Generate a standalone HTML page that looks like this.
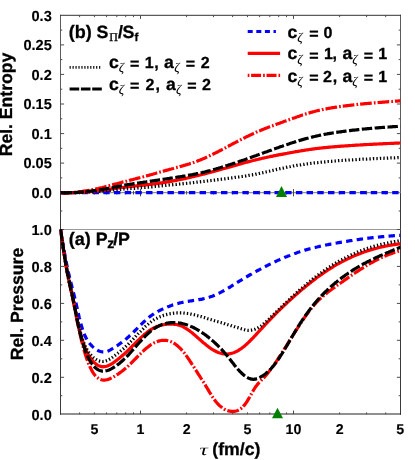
<!DOCTYPE html>
<html><head><meta charset="utf-8"><title>plot</title>
<style>html,body{margin:0;padding:0;background:#fff;}body{width:415px;height:460px;overflow:hidden;font-family:"Liberation Sans",sans-serif;}</style></head>
<body>
<svg width="415" height="460" viewBox="0 0 415 460" style="display:block;will-change:transform">
<rect width="415" height="460" fill="#fff"/>
<defs><clipPath id="ct"><rect x="60.5" y="15.3" width="340.0" height="179.9"/></clipPath><clipPath id="cb"><rect x="59.5" y="194.7" width="341.0" height="221.5"/></clipPath></defs>
<g stroke-width="1" fill="none">
<line x1="60.5" y1="14.8" x2="60.5" y2="192.7" stroke="#5c5c5c"/>
<line x1="60.5" y1="192.7" x2="60.5" y2="414.7" stroke="#3a3a3a"/>
<line x1="400.5" y1="14.8" x2="400.5" y2="192.7" stroke="#5c5c5c"/>
<line x1="400.5" y1="192.7" x2="400.5" y2="414.7" stroke="#3a3a3a"/>
<line x1="60.0" y1="15.3" x2="401.0" y2="15.3" stroke="#333"/>
<line x1="60.0" y1="414.0" x2="401.0" y2="414.0" stroke="#222" stroke-width="1.1"/>
</g>
<line x1="60.5" y1="192.7" x2="400.5" y2="192.7" stroke="#777" stroke-width="1"/>
<line x1="60.5" y1="229.5" x2="400.5" y2="229.5" stroke="#999" stroke-width="1"/>
<g stroke="#4a4a4a" stroke-width="1">
<line x1="79.6" y1="414.2" x2="79.6" y2="412.4"/>
<line x1="79.6" y1="15.3" x2="79.6" y2="17.1"/>
<line x1="79.6" y1="190.9" x2="79.6" y2="194.5"/>
<line x1="94.4" y1="414.2" x2="94.4" y2="412.4"/>
<line x1="94.4" y1="15.3" x2="94.4" y2="17.1"/>
<line x1="94.4" y1="190.9" x2="94.4" y2="194.5"/>
<line x1="106.6" y1="414.2" x2="106.6" y2="412.4"/>
<line x1="106.6" y1="15.3" x2="106.6" y2="17.1"/>
<line x1="106.6" y1="190.9" x2="106.6" y2="194.5"/>
<line x1="116.8" y1="414.2" x2="116.8" y2="412.4"/>
<line x1="116.8" y1="15.3" x2="116.8" y2="17.1"/>
<line x1="116.8" y1="190.9" x2="116.8" y2="194.5"/>
<line x1="125.7" y1="414.2" x2="125.7" y2="412.4"/>
<line x1="125.7" y1="15.3" x2="125.7" y2="17.1"/>
<line x1="125.7" y1="190.9" x2="125.7" y2="194.5"/>
<line x1="133.5" y1="414.2" x2="133.5" y2="412.4"/>
<line x1="133.5" y1="15.3" x2="133.5" y2="17.1"/>
<line x1="133.5" y1="190.9" x2="133.5" y2="194.5"/>
<line x1="186.6" y1="414.2" x2="186.6" y2="412.4"/>
<line x1="186.6" y1="15.3" x2="186.6" y2="17.1"/>
<line x1="186.6" y1="190.9" x2="186.6" y2="194.5"/>
<line x1="213.5" y1="414.2" x2="213.5" y2="412.4"/>
<line x1="213.5" y1="15.3" x2="213.5" y2="17.1"/>
<line x1="213.5" y1="190.9" x2="213.5" y2="194.5"/>
<line x1="232.6" y1="414.2" x2="232.6" y2="412.4"/>
<line x1="232.6" y1="15.3" x2="232.6" y2="17.1"/>
<line x1="232.6" y1="190.9" x2="232.6" y2="194.5"/>
<line x1="247.5" y1="414.2" x2="247.5" y2="412.4"/>
<line x1="247.5" y1="15.3" x2="247.5" y2="17.1"/>
<line x1="247.5" y1="190.9" x2="247.5" y2="194.5"/>
<line x1="259.6" y1="414.2" x2="259.6" y2="412.4"/>
<line x1="259.6" y1="15.3" x2="259.6" y2="17.1"/>
<line x1="259.6" y1="190.9" x2="259.6" y2="194.5"/>
<line x1="269.8" y1="414.2" x2="269.8" y2="412.4"/>
<line x1="269.8" y1="15.3" x2="269.8" y2="17.1"/>
<line x1="269.8" y1="190.9" x2="269.8" y2="194.5"/>
<line x1="278.7" y1="414.2" x2="278.7" y2="412.4"/>
<line x1="278.7" y1="15.3" x2="278.7" y2="17.1"/>
<line x1="278.7" y1="190.9" x2="278.7" y2="194.5"/>
<line x1="286.5" y1="414.2" x2="286.5" y2="412.4"/>
<line x1="286.5" y1="15.3" x2="286.5" y2="17.1"/>
<line x1="286.5" y1="190.9" x2="286.5" y2="194.5"/>
<line x1="339.6" y1="414.2" x2="339.6" y2="412.4"/>
<line x1="339.6" y1="15.3" x2="339.6" y2="17.1"/>
<line x1="339.6" y1="190.9" x2="339.6" y2="194.5"/>
<line x1="366.6" y1="414.2" x2="366.6" y2="412.4"/>
<line x1="366.6" y1="15.3" x2="366.6" y2="17.1"/>
<line x1="366.6" y1="190.9" x2="366.6" y2="194.5"/>
<line x1="385.7" y1="414.2" x2="385.7" y2="412.4"/>
<line x1="385.7" y1="15.3" x2="385.7" y2="17.1"/>
<line x1="385.7" y1="190.9" x2="385.7" y2="194.5"/>
<line x1="140.5" y1="414.2" x2="140.5" y2="410.6"/>
<line x1="140.5" y1="15.3" x2="140.5" y2="18.9"/>
<line x1="140.5" y1="189.1" x2="140.5" y2="196.3"/>
<line x1="293.5" y1="414.2" x2="293.5" y2="410.6"/>
<line x1="293.5" y1="15.3" x2="293.5" y2="18.9"/>
<line x1="293.5" y1="189.1" x2="293.5" y2="196.3"/>
<line x1="60.5" y1="177.9" x2="62.3" y2="177.9"/>
<line x1="400.5" y1="177.9" x2="398.7" y2="177.9"/>
<line x1="60.5" y1="163.1" x2="64.1" y2="163.1"/>
<line x1="400.5" y1="163.1" x2="396.9" y2="163.1"/>
<line x1="60.5" y1="148.3" x2="62.3" y2="148.3"/>
<line x1="400.5" y1="148.3" x2="398.7" y2="148.3"/>
<line x1="60.5" y1="133.6" x2="64.1" y2="133.6"/>
<line x1="400.5" y1="133.6" x2="396.9" y2="133.6"/>
<line x1="60.5" y1="118.8" x2="62.3" y2="118.8"/>
<line x1="400.5" y1="118.8" x2="398.7" y2="118.8"/>
<line x1="60.5" y1="104.0" x2="64.1" y2="104.0"/>
<line x1="400.5" y1="104.0" x2="396.9" y2="104.0"/>
<line x1="60.5" y1="89.2" x2="62.3" y2="89.2"/>
<line x1="400.5" y1="89.2" x2="398.7" y2="89.2"/>
<line x1="60.5" y1="74.4" x2="64.1" y2="74.4"/>
<line x1="400.5" y1="74.4" x2="396.9" y2="74.4"/>
<line x1="60.5" y1="59.6" x2="62.3" y2="59.6"/>
<line x1="400.5" y1="59.6" x2="398.7" y2="59.6"/>
<line x1="60.5" y1="44.9" x2="64.1" y2="44.9"/>
<line x1="400.5" y1="44.9" x2="396.9" y2="44.9"/>
<line x1="60.5" y1="30.1" x2="62.3" y2="30.1"/>
<line x1="400.5" y1="30.1" x2="398.7" y2="30.1"/>
<line x1="60.5" y1="395.7" x2="62.3" y2="395.7"/>
<line x1="400.5" y1="395.7" x2="398.7" y2="395.7"/>
<line x1="60.5" y1="377.3" x2="64.1" y2="377.3"/>
<line x1="400.5" y1="377.3" x2="396.9" y2="377.3"/>
<line x1="60.5" y1="358.8" x2="62.3" y2="358.8"/>
<line x1="400.5" y1="358.8" x2="398.7" y2="358.8"/>
<line x1="60.5" y1="340.3" x2="64.1" y2="340.3"/>
<line x1="400.5" y1="340.3" x2="396.9" y2="340.3"/>
<line x1="60.5" y1="321.9" x2="62.3" y2="321.9"/>
<line x1="400.5" y1="321.9" x2="398.7" y2="321.9"/>
<line x1="60.5" y1="303.4" x2="64.1" y2="303.4"/>
<line x1="400.5" y1="303.4" x2="396.9" y2="303.4"/>
<line x1="60.5" y1="284.9" x2="62.3" y2="284.9"/>
<line x1="400.5" y1="284.9" x2="398.7" y2="284.9"/>
<line x1="60.5" y1="266.4" x2="64.1" y2="266.4"/>
<line x1="400.5" y1="266.4" x2="396.9" y2="266.4"/>
<line x1="60.5" y1="248.0" x2="62.3" y2="248.0"/>
<line x1="400.5" y1="248.0" x2="398.7" y2="248.0"/>
<line x1="60.5" y1="229.5" x2="64.1" y2="229.5"/>
<line x1="400.5" y1="229.5" x2="396.9" y2="229.5"/>
<line x1="60.5" y1="211.0" x2="62.3" y2="211.0"/>
<line x1="400.5" y1="211.0" x2="398.7" y2="211.0"/>
</g>
<g clip-path="url(#ct)">
<path d="M60.5 192.7 L400.5 192.7" fill="none" stroke="#0000ff" stroke-width="3.2" stroke-dasharray="6.4 4.3"/>
<path d="M60.5 192.7 L61.4 192.7 L62.2 192.8 L63.1 192.8 L63.9 192.8 L64.8 192.8 L65.6 192.8 L66.5 192.8 L67.3 192.8 L68.2 192.8 L69.0 192.7 L69.9 192.7 L70.7 192.6 L71.6 192.6 L72.4 192.5 L73.3 192.5 L74.1 192.4 L75.0 192.3 L75.8 192.2 L76.7 192.1 L77.5 192.0 L78.4 191.9 L79.2 191.8 L80.1 191.7 L81.0 191.6 L81.8 191.5 L82.7 191.3 L83.5 191.2 L84.4 191.1 L85.2 190.9 L86.1 190.8 L86.9 190.7 L87.8 190.5 L88.6 190.4 L89.5 190.2 L90.3 190.0 L91.2 189.9 L92.0 189.7 L92.9 189.5 L93.7 189.4 L94.6 189.2 L95.4 189.0 L96.3 188.8 L97.1 188.7 L98.0 188.5 L98.8 188.3 L99.7 188.1 L100.6 187.9 L101.4 187.7 L102.3 187.5 L103.1 187.3 L104.0 187.1 L104.8 186.9 L105.7 186.6 L106.5 186.4 L107.4 186.2 L108.2 186.0 L109.1 185.7 L109.9 185.5 L110.8 185.3 L111.6 185.1 L112.5 184.8 L113.3 184.6 L114.2 184.4 L115.0 184.1 L115.9 183.9 L116.7 183.7 L117.6 183.5 L118.4 183.2 L119.3 183.0 L120.1 182.8 L121.0 182.6 L121.9 182.3 L122.7 182.1 L123.6 181.9 L124.4 181.7 L125.3 181.4 L126.1 181.2 L127.0 181.0 L127.8 180.8 L128.7 180.6 L129.5 180.3 L130.4 180.1 L131.2 179.9 L132.1 179.7 L132.9 179.5 L133.8 179.2 L134.6 179.0 L135.5 178.8 L136.3 178.6 L137.2 178.4 L138.0 178.1 L138.9 177.9 L139.7 177.7 L140.6 177.5 L141.5 177.2 L142.3 177.0 L143.2 176.8 L144.0 176.6 L144.9 176.3 L145.7 176.1 L146.6 175.9 L147.4 175.6 L148.3 175.4 L149.1 175.2 L150.0 174.9 L150.8 174.7 L151.7 174.5 L152.5 174.2 L153.4 174.0 L154.2 173.7 L155.1 173.5 L155.9 173.3 L156.8 173.0 L157.6 172.8 L158.5 172.5 L159.3 172.3 L160.2 172.0 L161.1 171.8 L161.9 171.6 L162.8 171.3 L163.6 171.1 L164.5 170.8 L165.3 170.6 L166.2 170.4 L167.0 170.1 L167.9 169.9 L168.7 169.7 L169.6 169.4 L170.4 169.2 L171.3 169.0 L172.1 168.7 L173.0 168.5 L173.8 168.3 L174.7 168.0 L175.5 167.8 L176.4 167.6 L177.2 167.3 L178.1 167.1 L178.9 166.9 L179.8 166.6 L180.7 166.4 L181.5 166.2 L182.4 165.9 L183.2 165.7 L184.1 165.4 L184.9 165.2 L185.8 164.9 L186.6 164.7 L187.5 164.4 L188.3 164.2 L189.2 163.9 L190.0 163.6 L190.9 163.4 L191.7 163.1 L192.6 162.8 L193.4 162.5 L194.3 162.2 L195.1 161.9 L196.0 161.6 L196.8 161.3 L197.7 161.0 L198.5 160.6 L199.4 160.3 L200.2 160.0 L201.1 159.6 L202.0 159.3 L202.8 158.9 L203.7 158.5 L204.5 158.2 L205.4 157.8 L206.2 157.4 L207.1 157.0 L207.9 156.6 L208.8 156.2 L209.6 155.8 L210.5 155.4 L211.3 155.0 L212.2 154.6 L213.0 154.2 L213.9 153.7 L214.7 153.3 L215.6 152.9 L216.4 152.5 L217.3 152.0 L218.1 151.6 L219.0 151.1 L219.8 150.7 L220.7 150.3 L221.6 149.8 L222.4 149.4 L223.3 148.9 L224.1 148.5 L225.0 148.0 L225.8 147.6 L226.7 147.1 L227.5 146.6 L228.4 146.2 L229.2 145.7 L230.1 145.3 L230.9 144.8 L231.8 144.4 L232.6 143.9 L233.5 143.5 L234.3 143.0 L235.2 142.6 L236.0 142.1 L236.9 141.7 L237.7 141.3 L238.6 140.8 L239.4 140.4 L240.3 139.9 L241.2 139.5 L242.0 139.1 L242.9 138.6 L243.7 138.2 L244.6 137.8 L245.4 137.4 L246.3 136.9 L247.1 136.5 L248.0 136.1 L248.8 135.7 L249.7 135.3 L250.5 134.9 L251.4 134.5 L252.2 134.1 L253.1 133.7 L253.9 133.3 L254.8 132.9 L255.6 132.5 L256.5 132.1 L257.3 131.8 L258.2 131.4 L259.0 131.0 L259.9 130.7 L260.8 130.3 L261.6 130.0 L262.5 129.6 L263.3 129.3 L264.2 128.9 L265.0 128.6 L265.9 128.3 L266.7 127.9 L267.6 127.6 L268.4 127.3 L269.3 126.9 L270.1 126.6 L271.0 126.3 L271.8 126.0 L272.7 125.7 L273.5 125.3 L274.4 125.0 L275.2 124.7 L276.1 124.4 L276.9 124.1 L277.8 123.8 L278.6 123.5 L279.5 123.2 L280.3 122.9 L281.2 122.6 L282.1 122.3 L282.9 122.0 L283.8 121.6 L284.6 121.3 L285.5 121.0 L286.3 120.7 L287.2 120.4 L288.0 120.1 L288.9 119.8 L289.7 119.5 L290.6 119.2 L291.4 118.9 L292.3 118.6 L293.1 118.3 L294.0 118.0 L294.8 117.7 L295.7 117.4 L296.5 117.1 L297.4 116.8 L298.2 116.5 L299.1 116.2 L299.9 115.9 L300.8 115.6 L301.7 115.3 L302.5 115.0 L303.4 114.8 L304.2 114.5 L305.1 114.2 L305.9 113.9 L306.8 113.7 L307.6 113.4 L308.5 113.1 L309.3 112.9 L310.2 112.6 L311.0 112.4 L311.9 112.2 L312.7 111.9 L313.6 111.7 L314.4 111.5 L315.3 111.2 L316.1 111.0 L317.0 110.8 L317.8 110.6 L318.7 110.4 L319.5 110.2 L320.4 110.0 L321.3 109.8 L322.1 109.6 L323.0 109.5 L323.8 109.3 L324.7 109.1 L325.5 108.9 L326.4 108.8 L327.2 108.6 L328.1 108.5 L328.9 108.3 L329.8 108.2 L330.6 108.0 L331.5 107.9 L332.3 107.7 L333.2 107.6 L334.0 107.5 L334.9 107.3 L335.7 107.2 L336.6 107.1 L337.4 106.9 L338.3 106.8 L339.1 106.7 L340.0 106.6 L340.9 106.5 L341.7 106.3 L342.6 106.2 L343.4 106.1 L344.3 106.0 L345.1 105.9 L346.0 105.8 L346.8 105.7 L347.7 105.6 L348.5 105.5 L349.4 105.4 L350.2 105.3 L351.1 105.2 L351.9 105.1 L352.8 105.0 L353.6 104.9 L354.5 104.8 L355.3 104.7 L356.2 104.6 L357.0 104.5 L357.9 104.4 L358.7 104.3 L359.6 104.3 L360.4 104.2 L361.3 104.1 L362.2 104.0 L363.0 103.9 L363.9 103.8 L364.7 103.7 L365.6 103.7 L366.4 103.6 L367.3 103.5 L368.1 103.4 L369.0 103.4 L369.8 103.3 L370.7 103.2 L371.5 103.1 L372.4 103.0 L373.2 103.0 L374.1 102.9 L374.9 102.8 L375.8 102.8 L376.6 102.7 L377.5 102.6 L378.3 102.5 L379.2 102.5 L380.0 102.4 L380.9 102.3 L381.8 102.3 L382.6 102.2 L383.5 102.1 L384.3 102.1 L385.2 102.0 L386.0 101.9 L386.9 101.9 L387.7 101.8 L388.6 101.7 L389.4 101.7 L390.3 101.6 L391.1 101.5 L392.0 101.5 L392.8 101.4 L393.7 101.3 L394.5 101.3 L395.4 101.2 L396.2 101.1 L397.1 101.1 L397.9 101.0 L398.8 100.9 L399.6 100.9 L400.5 100.8" fill="none" stroke="#ff0000" stroke-width="3.2" stroke-dasharray="11.7 2.1 1.7 2.0"/>
<path d="M60.5 192.7 L61.4 192.7 L62.2 192.7 L63.1 192.8 L63.9 192.8 L64.8 192.8 L65.6 192.8 L66.5 192.8 L67.3 192.8 L68.2 192.8 L69.0 192.8 L69.9 192.8 L70.7 192.7 L71.6 192.7 L72.4 192.7 L73.3 192.7 L74.1 192.6 L75.0 192.6 L75.8 192.6 L76.7 192.5 L77.5 192.5 L78.4 192.4 L79.2 192.4 L80.1 192.3 L81.0 192.3 L81.8 192.2 L82.7 192.2 L83.5 192.1 L84.4 192.1 L85.2 192.0 L86.1 191.9 L86.9 191.9 L87.8 191.8 L88.6 191.7 L89.5 191.7 L90.3 191.6 L91.2 191.5 L92.0 191.4 L92.9 191.3 L93.7 191.3 L94.6 191.2 L95.4 191.1 L96.3 191.0 L97.1 190.9 L98.0 190.8 L98.8 190.7 L99.7 190.6 L100.6 190.5 L101.4 190.4 L102.3 190.3 L103.1 190.2 L104.0 190.1 L104.8 189.9 L105.7 189.8 L106.5 189.7 L107.4 189.6 L108.2 189.4 L109.1 189.3 L109.9 189.2 L110.8 189.1 L111.6 188.9 L112.5 188.8 L113.3 188.7 L114.2 188.5 L115.0 188.4 L115.9 188.3 L116.7 188.2 L117.6 188.0 L118.4 187.9 L119.3 187.8 L120.1 187.7 L121.0 187.6 L121.9 187.5 L122.7 187.4 L123.6 187.3 L124.4 187.2 L125.3 187.1 L126.1 187.0 L127.0 186.9 L127.8 186.8 L128.7 186.7 L129.5 186.6 L130.4 186.5 L131.2 186.4 L132.1 186.3 L132.9 186.2 L133.8 186.1 L134.6 186.1 L135.5 186.0 L136.3 185.9 L137.2 185.8 L138.0 185.7 L138.9 185.6 L139.7 185.5 L140.6 185.5 L141.5 185.4 L142.3 185.3 L143.2 185.2 L144.0 185.1 L144.9 185.0 L145.7 184.9 L146.6 184.8 L147.4 184.7 L148.3 184.6 L149.1 184.5 L150.0 184.4 L150.8 184.3 L151.7 184.2 L152.5 184.1 L153.4 184.0 L154.2 183.9 L155.1 183.8 L155.9 183.7 L156.8 183.6 L157.6 183.4 L158.5 183.3 L159.3 183.2 L160.2 183.1 L161.1 182.9 L161.9 182.8 L162.8 182.7 L163.6 182.6 L164.5 182.4 L165.3 182.3 L166.2 182.1 L167.0 182.0 L167.9 181.9 L168.7 181.7 L169.6 181.6 L170.4 181.4 L171.3 181.3 L172.1 181.1 L173.0 181.0 L173.8 180.8 L174.7 180.6 L175.5 180.5 L176.4 180.3 L177.2 180.2 L178.1 180.0 L178.9 179.8 L179.8 179.6 L180.7 179.5 L181.5 179.3 L182.4 179.1 L183.2 178.9 L184.1 178.7 L184.9 178.6 L185.8 178.4 L186.6 178.2 L187.5 178.0 L188.3 177.8 L189.2 177.6 L190.0 177.4 L190.9 177.2 L191.7 177.0 L192.6 176.8 L193.4 176.6 L194.3 176.4 L195.1 176.2 L196.0 176.0 L196.8 175.8 L197.7 175.6 L198.5 175.4 L199.4 175.2 L200.2 175.0 L201.1 174.7 L202.0 174.5 L202.8 174.3 L203.7 174.1 L204.5 173.9 L205.4 173.7 L206.2 173.4 L207.1 173.2 L207.9 173.0 L208.8 172.8 L209.6 172.5 L210.5 172.3 L211.3 172.1 L212.2 171.8 L213.0 171.6 L213.9 171.4 L214.7 171.1 L215.6 170.9 L216.4 170.7 L217.3 170.4 L218.1 170.2 L219.0 170.0 L219.8 169.7 L220.7 169.5 L221.6 169.3 L222.4 169.0 L223.3 168.8 L224.1 168.5 L225.0 168.3 L225.8 168.1 L226.7 167.8 L227.5 167.6 L228.4 167.3 L229.2 167.1 L230.1 166.9 L230.9 166.6 L231.8 166.4 L232.6 166.1 L233.5 165.9 L234.3 165.6 L235.2 165.4 L236.0 165.2 L236.9 164.9 L237.7 164.7 L238.6 164.4 L239.4 164.2 L240.3 164.0 L241.2 163.7 L242.0 163.5 L242.9 163.2 L243.7 163.0 L244.6 162.8 L245.4 162.5 L246.3 162.3 L247.1 162.1 L248.0 161.9 L248.8 161.6 L249.7 161.4 L250.5 161.2 L251.4 161.0 L252.2 160.7 L253.1 160.5 L253.9 160.3 L254.8 160.1 L255.6 159.9 L256.5 159.7 L257.3 159.5 L258.2 159.3 L259.0 159.1 L259.9 158.9 L260.8 158.7 L261.6 158.5 L262.5 158.3 L263.3 158.1 L264.2 157.9 L265.0 157.7 L265.9 157.5 L266.7 157.3 L267.6 157.2 L268.4 157.0 L269.3 156.8 L270.1 156.6 L271.0 156.4 L271.8 156.3 L272.7 156.1 L273.5 155.9 L274.4 155.7 L275.2 155.6 L276.1 155.4 L276.9 155.2 L277.8 155.1 L278.6 154.9 L279.5 154.7 L280.3 154.6 L281.2 154.4 L282.1 154.3 L282.9 154.1 L283.8 153.9 L284.6 153.8 L285.5 153.6 L286.3 153.5 L287.2 153.3 L288.0 153.1 L288.9 153.0 L289.7 152.8 L290.6 152.7 L291.4 152.5 L292.3 152.4 L293.1 152.2 L294.0 152.0 L294.8 151.9 L295.7 151.7 L296.5 151.6 L297.4 151.5 L298.2 151.3 L299.1 151.2 L299.9 151.0 L300.8 150.9 L301.7 150.7 L302.5 150.6 L303.4 150.5 L304.2 150.3 L305.1 150.2 L305.9 150.0 L306.8 149.9 L307.6 149.8 L308.5 149.7 L309.3 149.5 L310.2 149.4 L311.0 149.3 L311.9 149.2 L312.7 149.1 L313.6 148.9 L314.4 148.8 L315.3 148.7 L316.1 148.6 L317.0 148.5 L317.8 148.4 L318.7 148.3 L319.5 148.2 L320.4 148.1 L321.3 148.0 L322.1 147.9 L323.0 147.8 L323.8 147.7 L324.7 147.6 L325.5 147.6 L326.4 147.5 L327.2 147.4 L328.1 147.3 L328.9 147.2 L329.8 147.2 L330.6 147.1 L331.5 147.0 L332.3 146.9 L333.2 146.9 L334.0 146.8 L334.9 146.7 L335.7 146.6 L336.6 146.6 L337.4 146.5 L338.3 146.4 L339.1 146.4 L340.0 146.3 L340.9 146.2 L341.7 146.2 L342.6 146.1 L343.4 146.1 L344.3 146.0 L345.1 145.9 L346.0 145.9 L346.8 145.8 L347.7 145.8 L348.5 145.7 L349.4 145.6 L350.2 145.6 L351.1 145.5 L351.9 145.5 L352.8 145.4 L353.6 145.4 L354.5 145.3 L355.3 145.2 L356.2 145.2 L357.0 145.1 L357.9 145.1 L358.7 145.0 L359.6 145.0 L360.4 144.9 L361.3 144.9 L362.2 144.8 L363.0 144.8 L363.9 144.7 L364.7 144.7 L365.6 144.6 L366.4 144.6 L367.3 144.5 L368.1 144.5 L369.0 144.5 L369.8 144.4 L370.7 144.4 L371.5 144.3 L372.4 144.3 L373.2 144.2 L374.1 144.2 L374.9 144.1 L375.8 144.1 L376.6 144.1 L377.5 144.0 L378.3 144.0 L379.2 143.9 L380.0 143.9 L380.9 143.8 L381.8 143.8 L382.6 143.8 L383.5 143.7 L384.3 143.7 L385.2 143.6 L386.0 143.6 L386.9 143.6 L387.7 143.5 L388.6 143.5 L389.4 143.5 L390.3 143.4 L391.1 143.4 L392.0 143.3 L392.8 143.3 L393.7 143.3 L394.5 143.2 L395.4 143.2 L396.2 143.2 L397.1 143.1 L397.9 143.1 L398.8 143.1 L399.6 143.0 L400.5 143.0" fill="none" stroke="#ff0000" stroke-width="3.2"/>
<path d="M60.5 192.7 L61.4 192.7 L62.2 192.7 L63.1 192.7 L63.9 192.7 L64.8 192.7 L65.6 192.7 L66.5 192.7 L67.3 192.7 L68.2 192.7 L69.0 192.7 L69.9 192.7 L70.7 192.7 L71.6 192.7 L72.4 192.7 L73.3 192.6 L74.1 192.6 L75.0 192.6 L75.8 192.6 L76.7 192.5 L77.5 192.5 L78.4 192.5 L79.2 192.5 L80.1 192.4 L81.0 192.4 L81.8 192.4 L82.7 192.3 L83.5 192.3 L84.4 192.2 L85.2 192.2 L86.1 192.2 L86.9 192.1 L87.8 192.1 L88.6 192.0 L89.5 192.0 L90.3 191.9 L91.2 191.9 L92.0 191.8 L92.9 191.8 L93.7 191.7 L94.6 191.6 L95.4 191.6 L96.3 191.5 L97.1 191.5 L98.0 191.4 L98.8 191.3 L99.7 191.3 L100.6 191.2 L101.4 191.1 L102.3 191.1 L103.1 191.0 L104.0 190.9 L104.8 190.8 L105.7 190.8 L106.5 190.7 L107.4 190.6 L108.2 190.5 L109.1 190.4 L109.9 190.4 L110.8 190.3 L111.6 190.2 L112.5 190.1 L113.3 190.0 L114.2 189.9 L115.0 189.9 L115.9 189.8 L116.7 189.7 L117.6 189.6 L118.4 189.5 L119.3 189.5 L120.1 189.4 L121.0 189.3 L121.9 189.2 L122.7 189.2 L123.6 189.1 L124.4 189.0 L125.3 189.0 L126.1 188.9 L127.0 188.8 L127.8 188.8 L128.7 188.7 L129.5 188.6 L130.4 188.6 L131.2 188.5 L132.1 188.5 L132.9 188.4 L133.8 188.3 L134.6 188.3 L135.5 188.2 L136.3 188.1 L137.2 188.1 L138.0 188.0 L138.9 187.9 L139.7 187.9 L140.6 187.8 L141.5 187.7 L142.3 187.7 L143.2 187.6 L144.0 187.5 L144.9 187.5 L145.7 187.4 L146.6 187.3 L147.4 187.2 L148.3 187.2 L149.1 187.1 L150.0 187.0 L150.8 186.9 L151.7 186.9 L152.5 186.8 L153.4 186.7 L154.2 186.6 L155.1 186.5 L155.9 186.4 L156.8 186.4 L157.6 186.3 L158.5 186.2 L159.3 186.1 L160.2 186.0 L161.1 185.9 L161.9 185.8 L162.8 185.7 L163.6 185.7 L164.5 185.6 L165.3 185.5 L166.2 185.4 L167.0 185.3 L167.9 185.2 L168.7 185.1 L169.6 185.0 L170.4 185.0 L171.3 184.9 L172.1 184.8 L173.0 184.7 L173.8 184.6 L174.7 184.5 L175.5 184.4 L176.4 184.4 L177.2 184.3 L178.1 184.2 L178.9 184.1 L179.8 184.0 L180.7 183.9 L181.5 183.8 L182.4 183.8 L183.2 183.7 L184.1 183.6 L184.9 183.5 L185.8 183.4 L186.6 183.3 L187.5 183.2 L188.3 183.1 L189.2 183.1 L190.0 183.0 L190.9 182.9 L191.7 182.8 L192.6 182.7 L193.4 182.6 L194.3 182.5 L195.1 182.4 L196.0 182.3 L196.8 182.2 L197.7 182.1 L198.5 182.0 L199.4 181.9 L200.2 181.8 L201.1 181.7 L202.0 181.6 L202.8 181.5 L203.7 181.4 L204.5 181.3 L205.4 181.2 L206.2 181.1 L207.1 181.0 L207.9 180.9 L208.8 180.8 L209.6 180.7 L210.5 180.6 L211.3 180.5 L212.2 180.4 L213.0 180.3 L213.9 180.2 L214.7 180.1 L215.6 180.0 L216.4 179.9 L217.3 179.8 L218.1 179.6 L219.0 179.5 L219.8 179.4 L220.7 179.3 L221.6 179.2 L222.4 179.1 L223.3 179.0 L224.1 178.9 L225.0 178.8 L225.8 178.7 L226.7 178.5 L227.5 178.4 L228.4 178.3 L229.2 178.2 L230.1 178.1 L230.9 178.0 L231.8 177.9 L232.6 177.8 L233.5 177.7 L234.3 177.6 L235.2 177.4 L236.0 177.3 L236.9 177.2 L237.7 177.1 L238.6 177.0 L239.4 176.9 L240.3 176.7 L241.2 176.6 L242.0 176.5 L242.9 176.4 L243.7 176.2 L244.6 176.1 L245.4 176.0 L246.3 175.9 L247.1 175.7 L248.0 175.6 L248.8 175.4 L249.7 175.3 L250.5 175.2 L251.4 175.0 L252.2 174.9 L253.1 174.7 L253.9 174.6 L254.8 174.4 L255.6 174.2 L256.5 174.1 L257.3 173.9 L258.2 173.7 L259.0 173.5 L259.9 173.4 L260.8 173.2 L261.6 173.0 L262.5 172.8 L263.3 172.6 L264.2 172.4 L265.0 172.2 L265.9 172.0 L266.7 171.8 L267.6 171.6 L268.4 171.4 L269.3 171.2 L270.1 171.0 L271.0 170.8 L271.8 170.6 L272.7 170.4 L273.5 170.2 L274.4 170.0 L275.2 169.8 L276.1 169.6 L276.9 169.4 L277.8 169.2 L278.6 169.0 L279.5 168.8 L280.3 168.6 L281.2 168.4 L282.1 168.2 L282.9 168.1 L283.8 167.9 L284.6 167.7 L285.5 167.5 L286.3 167.3 L287.2 167.2 L288.0 167.0 L288.9 166.8 L289.7 166.7 L290.6 166.5 L291.4 166.3 L292.3 166.2 L293.1 166.0 L294.0 165.9 L294.8 165.7 L295.7 165.6 L296.5 165.4 L297.4 165.3 L298.2 165.2 L299.1 165.0 L299.9 164.9 L300.8 164.8 L301.7 164.6 L302.5 164.5 L303.4 164.4 L304.2 164.3 L305.1 164.1 L305.9 164.0 L306.8 163.9 L307.6 163.8 L308.5 163.7 L309.3 163.6 L310.2 163.5 L311.0 163.3 L311.9 163.2 L312.7 163.1 L313.6 163.0 L314.4 162.9 L315.3 162.8 L316.1 162.7 L317.0 162.6 L317.8 162.6 L318.7 162.5 L319.5 162.4 L320.4 162.3 L321.3 162.2 L322.1 162.1 L323.0 162.0 L323.8 161.9 L324.7 161.9 L325.5 161.8 L326.4 161.7 L327.2 161.6 L328.1 161.5 L328.9 161.5 L329.8 161.4 L330.6 161.3 L331.5 161.3 L332.3 161.2 L333.2 161.1 L334.0 161.0 L334.9 161.0 L335.7 160.9 L336.6 160.8 L337.4 160.8 L338.3 160.7 L339.1 160.7 L340.0 160.6 L340.9 160.5 L341.7 160.5 L342.6 160.4 L343.4 160.4 L344.3 160.3 L345.1 160.2 L346.0 160.2 L346.8 160.1 L347.7 160.1 L348.5 160.0 L349.4 160.0 L350.2 159.9 L351.1 159.9 L351.9 159.8 L352.8 159.8 L353.6 159.7 L354.5 159.7 L355.3 159.6 L356.2 159.6 L357.0 159.5 L357.9 159.5 L358.7 159.4 L359.6 159.4 L360.4 159.4 L361.3 159.3 L362.2 159.3 L363.0 159.2 L363.9 159.2 L364.7 159.1 L365.6 159.1 L366.4 159.1 L367.3 159.0 L368.1 159.0 L369.0 158.9 L369.8 158.9 L370.7 158.9 L371.5 158.8 L372.4 158.8 L373.2 158.7 L374.1 158.7 L374.9 158.7 L375.8 158.6 L376.6 158.6 L377.5 158.5 L378.3 158.5 L379.2 158.5 L380.0 158.4 L380.9 158.4 L381.8 158.4 L382.6 158.3 L383.5 158.3 L384.3 158.2 L385.2 158.2 L386.0 158.2 L386.9 158.1 L387.7 158.1 L388.6 158.0 L389.4 158.0 L390.3 158.0 L391.1 157.9 L392.0 157.9 L392.8 157.9 L393.7 157.8 L394.5 157.8 L395.4 157.7 L396.2 157.7 L397.1 157.7 L397.9 157.6 L398.8 157.6 L399.6 157.5 L400.5 157.5" fill="none" stroke="#000000" stroke-width="3.2" stroke-dasharray="1.35 2.15"/>
<path d="M60.5 192.7 L61.4 192.7 L62.2 192.7 L63.1 192.8 L63.9 192.8 L64.8 192.8 L65.6 192.8 L66.5 192.8 L67.3 192.8 L68.2 192.8 L69.0 192.7 L69.9 192.7 L70.7 192.7 L71.6 192.7 L72.4 192.6 L73.3 192.6 L74.1 192.5 L75.0 192.5 L75.8 192.5 L76.7 192.4 L77.5 192.3 L78.4 192.3 L79.2 192.2 L80.1 192.2 L81.0 192.1 L81.8 192.0 L82.7 191.9 L83.5 191.9 L84.4 191.8 L85.2 191.7 L86.1 191.6 L86.9 191.5 L87.8 191.4 L88.6 191.3 L89.5 191.2 L90.3 191.1 L91.2 191.0 L92.0 190.9 L92.9 190.8 L93.7 190.7 L94.6 190.6 L95.4 190.5 L96.3 190.4 L97.1 190.2 L98.0 190.1 L98.8 190.0 L99.7 189.9 L100.6 189.7 L101.4 189.6 L102.3 189.4 L103.1 189.3 L104.0 189.1 L104.8 189.0 L105.7 188.8 L106.5 188.6 L107.4 188.5 L108.2 188.3 L109.1 188.1 L109.9 188.0 L110.8 187.8 L111.6 187.6 L112.5 187.5 L113.3 187.3 L114.2 187.1 L115.0 186.9 L115.9 186.8 L116.7 186.6 L117.6 186.4 L118.4 186.3 L119.3 186.1 L120.1 186.0 L121.0 185.8 L121.9 185.7 L122.7 185.5 L123.6 185.4 L124.4 185.2 L125.3 185.1 L126.1 184.9 L127.0 184.8 L127.8 184.6 L128.7 184.5 L129.5 184.4 L130.4 184.2 L131.2 184.1 L132.1 184.0 L132.9 183.8 L133.8 183.7 L134.6 183.6 L135.5 183.5 L136.3 183.3 L137.2 183.2 L138.0 183.1 L138.9 183.0 L139.7 182.8 L140.6 182.7 L141.5 182.6 L142.3 182.5 L143.2 182.3 L144.0 182.2 L144.9 182.1 L145.7 182.0 L146.6 181.8 L147.4 181.7 L148.3 181.6 L149.1 181.5 L150.0 181.3 L150.8 181.2 L151.7 181.1 L152.5 180.9 L153.4 180.8 L154.2 180.7 L155.1 180.6 L155.9 180.4 L156.8 180.3 L157.6 180.2 L158.5 180.0 L159.3 179.9 L160.2 179.8 L161.1 179.7 L161.9 179.5 L162.8 179.4 L163.6 179.3 L164.5 179.1 L165.3 179.0 L166.2 178.9 L167.0 178.8 L167.9 178.6 L168.7 178.5 L169.6 178.4 L170.4 178.2 L171.3 178.1 L172.1 178.0 L173.0 177.8 L173.8 177.7 L174.7 177.6 L175.5 177.5 L176.4 177.3 L177.2 177.2 L178.1 177.1 L178.9 176.9 L179.8 176.8 L180.7 176.7 L181.5 176.5 L182.4 176.4 L183.2 176.2 L184.1 176.1 L184.9 176.0 L185.8 175.8 L186.6 175.7 L187.5 175.5 L188.3 175.4 L189.2 175.2 L190.0 175.1 L190.9 174.9 L191.7 174.8 L192.6 174.6 L193.4 174.4 L194.3 174.3 L195.1 174.1 L196.0 173.9 L196.8 173.7 L197.7 173.6 L198.5 173.4 L199.4 173.2 L200.2 173.0 L201.1 172.8 L202.0 172.6 L202.8 172.4 L203.7 172.2 L204.5 172.0 L205.4 171.8 L206.2 171.6 L207.1 171.4 L207.9 171.1 L208.8 170.9 L209.6 170.7 L210.5 170.5 L211.3 170.2 L212.2 170.0 L213.0 169.8 L213.9 169.5 L214.7 169.3 L215.6 169.0 L216.4 168.8 L217.3 168.5 L218.1 168.3 L219.0 168.0 L219.8 167.8 L220.7 167.5 L221.6 167.3 L222.4 167.0 L223.3 166.7 L224.1 166.5 L225.0 166.2 L225.8 165.9 L226.7 165.7 L227.5 165.4 L228.4 165.1 L229.2 164.8 L230.1 164.6 L230.9 164.3 L231.8 164.0 L232.6 163.7 L233.5 163.4 L234.3 163.2 L235.2 162.9 L236.0 162.6 L236.9 162.3 L237.7 162.0 L238.6 161.7 L239.4 161.4 L240.3 161.1 L241.2 160.8 L242.0 160.5 L242.9 160.3 L243.7 160.0 L244.6 159.7 L245.4 159.4 L246.3 159.1 L247.1 158.8 L248.0 158.5 L248.8 158.2 L249.7 157.9 L250.5 157.6 L251.4 157.2 L252.2 156.9 L253.1 156.6 L253.9 156.3 L254.8 156.0 L255.6 155.7 L256.5 155.4 L257.3 155.1 L258.2 154.8 L259.0 154.5 L259.9 154.2 L260.8 153.9 L261.6 153.6 L262.5 153.2 L263.3 152.9 L264.2 152.6 L265.0 152.3 L265.9 152.0 L266.7 151.7 L267.6 151.4 L268.4 151.1 L269.3 150.8 L270.1 150.5 L271.0 150.2 L271.8 149.8 L272.7 149.5 L273.5 149.2 L274.4 148.9 L275.2 148.6 L276.1 148.3 L276.9 148.0 L277.8 147.7 L278.6 147.4 L279.5 147.1 L280.3 146.8 L281.2 146.5 L282.1 146.2 L282.9 145.9 L283.8 145.6 L284.6 145.3 L285.5 145.0 L286.3 144.8 L287.2 144.5 L288.0 144.2 L288.9 143.9 L289.7 143.6 L290.6 143.3 L291.4 143.0 L292.3 142.8 L293.1 142.5 L294.0 142.2 L294.8 141.9 L295.7 141.7 L296.5 141.4 L297.4 141.1 L298.2 140.9 L299.1 140.6 L299.9 140.4 L300.8 140.1 L301.7 139.9 L302.5 139.6 L303.4 139.4 L304.2 139.1 L305.1 138.9 L305.9 138.6 L306.8 138.4 L307.6 138.2 L308.5 138.0 L309.3 137.7 L310.2 137.5 L311.0 137.3 L311.9 137.1 L312.7 136.9 L313.6 136.7 L314.4 136.5 L315.3 136.3 L316.1 136.1 L317.0 135.9 L317.8 135.7 L318.7 135.5 L319.5 135.3 L320.4 135.2 L321.3 135.0 L322.1 134.8 L323.0 134.7 L323.8 134.5 L324.7 134.3 L325.5 134.2 L326.4 134.0 L327.2 133.9 L328.1 133.7 L328.9 133.6 L329.8 133.4 L330.6 133.3 L331.5 133.2 L332.3 133.0 L333.2 132.9 L334.0 132.8 L334.9 132.6 L335.7 132.5 L336.6 132.4 L337.4 132.2 L338.3 132.1 L339.1 132.0 L340.0 131.9 L340.9 131.8 L341.7 131.6 L342.6 131.5 L343.4 131.4 L344.3 131.3 L345.1 131.2 L346.0 131.1 L346.8 131.0 L347.7 130.9 L348.5 130.8 L349.4 130.7 L350.2 130.6 L351.1 130.4 L351.9 130.3 L352.8 130.2 L353.6 130.1 L354.5 130.1 L355.3 130.0 L356.2 129.9 L357.0 129.8 L357.9 129.7 L358.7 129.6 L359.6 129.5 L360.4 129.4 L361.3 129.3 L362.2 129.2 L363.0 129.1 L363.9 129.0 L364.7 129.0 L365.6 128.9 L366.4 128.8 L367.3 128.7 L368.1 128.6 L369.0 128.6 L369.8 128.5 L370.7 128.4 L371.5 128.3 L372.4 128.2 L373.2 128.2 L374.1 128.1 L374.9 128.0 L375.8 128.0 L376.6 127.9 L377.5 127.8 L378.3 127.8 L379.2 127.7 L380.0 127.6 L380.9 127.6 L381.8 127.5 L382.6 127.4 L383.5 127.4 L384.3 127.3 L385.2 127.2 L386.0 127.2 L386.9 127.1 L387.7 127.1 L388.6 127.0 L389.4 127.0 L390.3 126.9 L391.1 126.8 L392.0 126.8 L392.8 126.7 L393.7 126.7 L394.5 126.6 L395.4 126.6 L396.2 126.5 L397.1 126.5 L397.9 126.4 L398.8 126.4 L399.6 126.3 L400.5 126.3" fill="none" stroke="#000000" stroke-width="3.2" stroke-dasharray="10.4 2.5"/>
</g>
<g clip-path="url(#cb)">
<path d="M60.5 229.5 L61.4 234.7 L62.2 239.8 L63.1 244.8 L63.9 249.6 L64.8 254.3 L65.6 258.8 L66.5 263.2 L67.3 267.3 L68.2 271.3 L69.0 275.0 L69.9 278.6 L70.7 282.0 L71.6 285.3 L72.4 288.6 L73.3 291.9 L74.1 295.2 L75.0 298.7 L75.8 302.3 L76.7 306.0 L77.5 309.8 L78.4 313.6 L79.2 317.3 L80.1 320.8 L81.0 324.1 L81.8 327.1 L82.7 329.8 L83.5 332.2 L84.4 334.4 L85.2 336.3 L86.1 338.0 L86.9 339.6 L87.8 340.9 L88.6 342.2 L89.5 343.3 L90.3 344.3 L91.2 345.2 L92.0 346.1 L92.9 346.9 L93.7 347.6 L94.6 348.3 L95.4 349.0 L96.3 349.6 L97.1 350.1 L98.0 350.6 L98.8 350.9 L99.7 351.3 L100.6 351.5 L101.4 351.7 L102.3 351.9 L103.1 351.9 L104.0 351.9 L104.8 351.9 L105.7 351.7 L106.5 351.5 L107.4 351.2 L108.2 350.9 L109.1 350.5 L109.9 350.1 L110.8 349.6 L111.6 349.1 L112.5 348.6 L113.3 348.1 L114.2 347.5 L115.0 347.0 L115.9 346.4 L116.7 345.8 L117.6 345.3 L118.4 344.7 L119.3 344.1 L120.1 343.5 L121.0 342.9 L121.9 342.3 L122.7 341.6 L123.6 341.0 L124.4 340.3 L125.3 339.6 L126.1 338.9 L127.0 338.2 L127.8 337.4 L128.7 336.7 L129.5 335.9 L130.4 335.1 L131.2 334.3 L132.1 333.5 L132.9 332.7 L133.8 331.8 L134.6 331.0 L135.5 330.1 L136.3 329.3 L137.2 328.4 L138.0 327.5 L138.9 326.7 L139.7 325.8 L140.6 325.0 L141.5 324.1 L142.3 323.3 L143.2 322.5 L144.0 321.7 L144.9 320.9 L145.7 320.1 L146.6 319.4 L147.4 318.6 L148.3 317.9 L149.1 317.2 L150.0 316.5 L150.8 315.9 L151.7 315.3 L152.5 314.7 L153.4 314.1 L154.2 313.5 L155.1 313.0 L155.9 312.5 L156.8 312.0 L157.6 311.5 L158.5 311.1 L159.3 310.6 L160.2 310.2 L161.1 309.8 L161.9 309.4 L162.8 309.0 L163.6 308.6 L164.5 308.2 L165.3 307.9 L166.2 307.5 L167.0 307.2 L167.9 306.8 L168.7 306.5 L169.6 306.2 L170.4 305.8 L171.3 305.5 L172.1 305.2 L173.0 304.9 L173.8 304.7 L174.7 304.4 L175.5 304.1 L176.4 303.9 L177.2 303.6 L178.1 303.4 L178.9 303.2 L179.8 302.9 L180.7 302.7 L181.5 302.5 L182.4 302.4 L183.2 302.2 L184.1 302.0 L184.9 301.9 L185.8 301.7 L186.6 301.6 L187.5 301.4 L188.3 301.3 L189.2 301.2 L190.0 301.0 L190.9 300.9 L191.7 300.8 L192.6 300.6 L193.4 300.5 L194.3 300.4 L195.1 300.3 L196.0 300.1 L196.8 300.0 L197.7 299.9 L198.5 299.7 L199.4 299.6 L200.2 299.4 L201.1 299.3 L202.0 299.1 L202.8 298.9 L203.7 298.7 L204.5 298.5 L205.4 298.3 L206.2 298.1 L207.1 297.9 L207.9 297.7 L208.8 297.4 L209.6 297.1 L210.5 296.8 L211.3 296.5 L212.2 296.2 L213.0 295.9 L213.9 295.6 L214.7 295.2 L215.6 294.8 L216.4 294.4 L217.3 294.1 L218.1 293.6 L219.0 293.2 L219.8 292.8 L220.7 292.4 L221.6 291.9 L222.4 291.4 L223.3 291.0 L224.1 290.5 L225.0 290.0 L225.8 289.5 L226.7 289.0 L227.5 288.5 L228.4 288.0 L229.2 287.5 L230.1 287.0 L230.9 286.5 L231.8 285.9 L232.6 285.4 L233.5 284.9 L234.3 284.3 L235.2 283.8 L236.0 283.3 L236.9 282.7 L237.7 282.2 L238.6 281.7 L239.4 281.1 L240.3 280.6 L241.2 280.1 L242.0 279.6 L242.9 279.1 L243.7 278.5 L244.6 278.0 L245.4 277.5 L246.3 277.0 L247.1 276.5 L248.0 276.0 L248.8 275.5 L249.7 275.0 L250.5 274.5 L251.4 274.1 L252.2 273.6 L253.1 273.1 L253.9 272.6 L254.8 272.1 L255.6 271.7 L256.5 271.2 L257.3 270.7 L258.2 270.3 L259.0 269.8 L259.9 269.4 L260.8 268.9 L261.6 268.4 L262.5 268.0 L263.3 267.6 L264.2 267.1 L265.0 266.7 L265.9 266.2 L266.7 265.8 L267.6 265.4 L268.4 264.9 L269.3 264.5 L270.1 264.1 L271.0 263.7 L271.8 263.3 L272.7 262.8 L273.5 262.4 L274.4 262.0 L275.2 261.6 L276.1 261.2 L276.9 260.8 L277.8 260.4 L278.6 260.0 L279.5 259.7 L280.3 259.3 L281.2 258.9 L282.1 258.5 L282.9 258.2 L283.8 257.8 L284.6 257.4 L285.5 257.1 L286.3 256.7 L287.2 256.4 L288.0 256.0 L288.9 255.7 L289.7 255.4 L290.6 255.0 L291.4 254.7 L292.3 254.4 L293.1 254.1 L294.0 253.8 L294.8 253.5 L295.7 253.2 L296.5 252.9 L297.4 252.6 L298.2 252.3 L299.1 252.0 L299.9 251.7 L300.8 251.4 L301.7 251.2 L302.5 250.9 L303.4 250.6 L304.2 250.4 L305.1 250.1 L305.9 249.9 L306.8 249.6 L307.6 249.4 L308.5 249.2 L309.3 248.9 L310.2 248.7 L311.0 248.5 L311.9 248.3 L312.7 248.0 L313.6 247.8 L314.4 247.6 L315.3 247.4 L316.1 247.2 L317.0 247.0 L317.8 246.8 L318.7 246.6 L319.5 246.4 L320.4 246.2 L321.3 246.0 L322.1 245.9 L323.0 245.7 L323.8 245.5 L324.7 245.3 L325.5 245.1 L326.4 245.0 L327.2 244.8 L328.1 244.6 L328.9 244.4 L329.8 244.3 L330.6 244.1 L331.5 244.0 L332.3 243.8 L333.2 243.6 L334.0 243.5 L334.9 243.3 L335.7 243.2 L336.6 243.0 L337.4 242.9 L338.3 242.7 L339.1 242.6 L340.0 242.4 L340.9 242.3 L341.7 242.1 L342.6 242.0 L343.4 241.8 L344.3 241.7 L345.1 241.5 L346.0 241.4 L346.8 241.3 L347.7 241.1 L348.5 241.0 L349.4 240.8 L350.2 240.7 L351.1 240.6 L351.9 240.5 L352.8 240.3 L353.6 240.2 L354.5 240.1 L355.3 239.9 L356.2 239.8 L357.0 239.7 L357.9 239.6 L358.7 239.5 L359.6 239.3 L360.4 239.2 L361.3 239.1 L362.2 239.0 L363.0 238.9 L363.9 238.8 L364.7 238.7 L365.6 238.5 L366.4 238.4 L367.3 238.3 L368.1 238.2 L369.0 238.1 L369.8 238.0 L370.7 237.9 L371.5 237.8 L372.4 237.7 L373.2 237.6 L374.1 237.5 L374.9 237.4 L375.8 237.4 L376.6 237.3 L377.5 237.2 L378.3 237.1 L379.2 237.0 L380.0 236.9 L380.9 236.8 L381.8 236.7 L382.6 236.7 L383.5 236.6 L384.3 236.5 L385.2 236.4 L386.0 236.4 L386.9 236.3 L387.7 236.2 L388.6 236.1 L389.4 236.1 L390.3 236.0 L391.1 235.9 L392.0 235.9 L392.8 235.8 L393.7 235.7 L394.5 235.7 L395.4 235.6 L396.2 235.6 L397.1 235.5 L397.9 235.5 L398.8 235.4 L399.6 235.4 L400.5 235.3" fill="none" stroke="#0000ff" stroke-width="3.2" stroke-dasharray="6.4 4.3"/>
<path d="M60.5 229.5 L61.4 235.6 L62.2 241.5 L63.1 247.4 L63.9 253.0 L64.8 258.5 L65.6 263.7 L66.5 268.6 L67.3 273.3 L68.2 277.7 L69.0 281.8 L69.9 285.7 L70.7 289.6 L71.6 293.4 L72.4 297.3 L73.3 301.4 L74.1 305.5 L75.0 309.8 L75.8 314.2 L76.7 318.5 L77.5 322.8 L78.4 326.9 L79.2 330.8 L80.1 334.6 L81.0 338.3 L81.8 341.7 L82.7 345.0 L83.5 348.2 L84.4 351.2 L85.2 354.0 L86.1 356.7 L86.9 359.2 L87.8 361.5 L88.6 363.7 L89.5 365.7 L90.3 367.6 L91.2 369.3 L92.0 370.9 L92.9 372.4 L93.7 373.6 L94.6 374.8 L95.4 375.8 L96.3 376.7 L97.1 377.5 L98.0 378.1 L98.8 378.7 L99.7 379.2 L100.6 379.5 L101.4 379.8 L102.3 380.0 L103.1 380.1 L104.0 380.1 L104.8 380.1 L105.7 380.0 L106.5 379.8 L107.4 379.6 L108.2 379.4 L109.1 379.1 L109.9 378.7 L110.8 378.3 L111.6 377.9 L112.5 377.5 L113.3 377.0 L114.2 376.5 L115.0 376.0 L115.9 375.4 L116.7 374.9 L117.6 374.3 L118.4 373.8 L119.3 373.2 L120.1 372.6 L121.0 372.0 L121.9 371.3 L122.7 370.7 L123.6 370.0 L124.4 369.3 L125.3 368.6 L126.1 367.9 L127.0 367.1 L127.8 366.3 L128.7 365.5 L129.5 364.7 L130.4 363.9 L131.2 363.1 L132.1 362.2 L132.9 361.4 L133.8 360.5 L134.6 359.6 L135.5 358.8 L136.3 357.9 L137.2 357.0 L138.0 356.2 L138.9 355.3 L139.7 354.4 L140.6 353.6 L141.5 352.8 L142.3 351.9 L143.2 351.1 L144.0 350.3 L144.9 349.6 L145.7 348.8 L146.6 348.1 L147.4 347.4 L148.3 346.7 L149.1 346.0 L150.0 345.4 L150.8 344.8 L151.7 344.3 L152.5 343.8 L153.4 343.3 L154.2 342.8 L155.1 342.4 L155.9 342.0 L156.8 341.7 L157.6 341.4 L158.5 341.1 L159.3 340.9 L160.2 340.7 L161.1 340.5 L161.9 340.4 L162.8 340.3 L163.6 340.3 L164.5 340.3 L165.3 340.3 L166.2 340.4 L167.0 340.5 L167.9 340.7 L168.7 340.9 L169.6 341.2 L170.4 341.5 L171.3 341.8 L172.1 342.2 L173.0 342.6 L173.8 343.1 L174.7 343.7 L175.5 344.2 L176.4 344.9 L177.2 345.5 L178.1 346.3 L178.9 347.1 L179.8 347.9 L180.7 348.8 L181.5 349.7 L182.4 350.7 L183.2 351.7 L184.1 352.8 L184.9 353.9 L185.8 355.0 L186.6 356.2 L187.5 357.4 L188.3 358.6 L189.2 359.9 L190.0 361.2 L190.9 362.5 L191.7 363.8 L192.6 365.1 L193.4 366.4 L194.3 367.7 L195.1 369.1 L196.0 370.4 L196.8 371.7 L197.7 373.1 L198.5 374.4 L199.4 375.7 L200.2 377.0 L201.1 378.4 L202.0 379.7 L202.8 381.1 L203.7 382.4 L204.5 383.8 L205.4 385.2 L206.2 386.6 L207.1 388.0 L207.9 389.4 L208.8 390.9 L209.6 392.3 L210.5 393.7 L211.3 395.0 L212.2 396.4 L213.0 397.6 L213.9 398.9 L214.7 400.0 L215.6 401.2 L216.4 402.2 L217.3 403.2 L218.1 404.2 L219.0 405.1 L219.8 405.9 L220.7 406.6 L221.6 407.3 L222.4 408.0 L223.3 408.5 L224.1 409.1 L225.0 409.5 L225.8 409.9 L226.7 410.3 L227.5 410.6 L228.4 410.8 L229.2 411.1 L230.1 411.2 L230.9 411.3 L231.8 411.4 L232.6 411.4 L233.5 411.4 L234.3 411.3 L235.2 411.2 L236.0 411.0 L236.9 410.7 L237.7 410.4 L238.6 410.0 L239.4 409.6 L240.3 409.0 L241.2 408.4 L242.0 407.7 L242.9 406.9 L243.7 405.9 L244.6 404.9 L245.4 403.8 L246.3 402.6 L247.1 401.3 L248.0 399.9 L248.8 398.4 L249.7 397.0 L250.5 395.4 L251.4 393.9 L252.2 392.4 L253.1 390.9 L253.9 389.5 L254.8 388.1 L255.6 386.8 L256.5 385.7 L257.3 384.6 L258.2 383.6 L259.0 382.7 L259.9 381.8 L260.8 380.9 L261.6 380.0 L262.5 379.2 L263.3 378.3 L264.2 377.4 L265.0 376.4 L265.9 375.4 L266.7 374.4 L267.6 373.4 L268.4 372.3 L269.3 371.2 L270.1 370.1 L271.0 369.0 L271.8 367.9 L272.7 366.7 L273.5 365.5 L274.4 364.3 L275.2 363.1 L276.1 361.8 L276.9 360.6 L277.8 359.3 L278.6 358.0 L279.5 356.7 L280.3 355.4 L281.2 354.1 L282.1 352.7 L282.9 351.4 L283.8 350.1 L284.6 348.7 L285.5 347.4 L286.3 346.0 L287.2 344.6 L288.0 343.3 L288.9 341.9 L289.7 340.5 L290.6 339.1 L291.4 337.8 L292.3 336.4 L293.1 335.0 L294.0 333.7 L294.8 332.3 L295.7 331.0 L296.5 329.6 L297.4 328.3 L298.2 327.0 L299.1 325.6 L299.9 324.3 L300.8 323.0 L301.7 321.7 L302.5 320.5 L303.4 319.2 L304.2 318.0 L305.1 316.7 L305.9 315.5 L306.8 314.3 L307.6 313.2 L308.5 312.0 L309.3 310.9 L310.2 309.8 L311.0 308.7 L311.9 307.6 L312.7 306.6 L313.6 305.6 L314.4 304.6 L315.3 303.6 L316.1 302.7 L317.0 301.8 L317.8 300.9 L318.7 300.1 L319.5 299.3 L320.4 298.5 L321.3 297.7 L322.1 296.9 L323.0 296.2 L323.8 295.5 L324.7 294.8 L325.5 294.1 L326.4 293.4 L327.2 292.7 L328.1 292.1 L328.9 291.4 L329.8 290.8 L330.6 290.2 L331.5 289.6 L332.3 288.9 L333.2 288.3 L334.0 287.7 L334.9 287.1 L335.7 286.5 L336.6 285.9 L337.4 285.2 L338.3 284.6 L339.1 284.0 L340.0 283.4 L340.9 282.8 L341.7 282.2 L342.6 281.6 L343.4 281.0 L344.3 280.4 L345.1 279.8 L346.0 279.2 L346.8 278.6 L347.7 278.0 L348.5 277.4 L349.4 276.8 L350.2 276.2 L351.1 275.6 L351.9 275.0 L352.8 274.5 L353.6 273.9 L354.5 273.3 L355.3 272.7 L356.2 272.2 L357.0 271.6 L357.9 271.1 L358.7 270.5 L359.6 270.0 L360.4 269.4 L361.3 268.9 L362.2 268.3 L363.0 267.8 L363.9 267.3 L364.7 266.7 L365.6 266.2 L366.4 265.7 L367.3 265.2 L368.1 264.7 L369.0 264.2 L369.8 263.7 L370.7 263.2 L371.5 262.7 L372.4 262.3 L373.2 261.8 L374.1 261.3 L374.9 260.9 L375.8 260.4 L376.6 260.0 L377.5 259.6 L378.3 259.1 L379.2 258.7 L380.0 258.3 L380.9 257.9 L381.8 257.5 L382.6 257.1 L383.5 256.7 L384.3 256.4 L385.2 256.0 L386.0 255.6 L386.9 255.3 L387.7 254.9 L388.6 254.6 L389.4 254.3 L390.3 254.0 L391.1 253.7 L392.0 253.4 L392.8 253.1 L393.7 252.8 L394.5 252.5 L395.4 252.3 L396.2 252.0 L397.1 251.8 L397.9 251.5 L398.8 251.3 L399.6 251.1 L400.5 250.9" fill="none" stroke="#ff0000" stroke-width="3.2" stroke-dasharray="11.7 2.1 1.7 2.0"/>
<path d="M60.5 229.5 L61.4 235.3 L62.2 241.1 L63.1 246.8 L63.9 252.3 L64.8 257.6 L65.6 262.7 L66.5 267.6 L67.3 272.2 L68.2 276.6 L69.0 280.7 L69.9 284.6 L70.7 288.4 L71.6 292.1 L72.4 296.0 L73.3 299.9 L74.1 304.0 L75.0 308.3 L75.8 312.6 L76.7 316.9 L77.5 321.0 L78.4 325.0 L79.2 328.7 L80.1 332.1 L81.0 335.3 L81.8 338.3 L82.7 341.1 L83.5 343.6 L84.4 345.9 L85.2 348.1 L86.1 350.1 L86.9 351.9 L87.8 353.6 L88.6 355.1 L89.5 356.5 L90.3 357.8 L91.2 359.0 L92.0 360.1 L92.9 361.1 L93.7 362.0 L94.6 362.9 L95.4 363.6 L96.3 364.3 L97.1 364.9 L98.0 365.4 L98.8 365.8 L99.7 366.1 L100.6 366.4 L101.4 366.6 L102.3 366.7 L103.1 366.8 L104.0 366.7 L104.8 366.6 L105.7 366.5 L106.5 366.3 L107.4 366.0 L108.2 365.6 L109.1 365.2 L109.9 364.8 L110.8 364.3 L111.6 363.8 L112.5 363.3 L113.3 362.7 L114.2 362.1 L115.0 361.5 L115.9 360.8 L116.7 360.2 L117.6 359.5 L118.4 358.9 L119.3 358.2 L120.1 357.5 L121.0 356.8 L121.9 356.0 L122.7 355.3 L123.6 354.6 L124.4 353.8 L125.3 353.0 L126.1 352.2 L127.0 351.4 L127.8 350.6 L128.7 349.8 L129.5 348.9 L130.4 348.1 L131.2 347.2 L132.1 346.4 L132.9 345.5 L133.8 344.7 L134.6 343.8 L135.5 343.0 L136.3 342.1 L137.2 341.3 L138.0 340.4 L138.9 339.6 L139.7 338.8 L140.6 337.9 L141.5 337.1 L142.3 336.4 L143.2 335.6 L144.0 334.8 L144.9 334.1 L145.7 333.4 L146.6 332.7 L147.4 332.0 L148.3 331.4 L149.1 330.8 L150.0 330.2 L150.8 329.7 L151.7 329.1 L152.5 328.7 L153.4 328.2 L154.2 327.8 L155.1 327.4 L155.9 327.0 L156.8 326.6 L157.6 326.3 L158.5 326.0 L159.3 325.7 L160.2 325.5 L161.1 325.2 L161.9 325.0 L162.8 324.8 L163.6 324.7 L164.5 324.5 L165.3 324.4 L166.2 324.3 L167.0 324.2 L167.9 324.2 L168.7 324.1 L169.6 324.1 L170.4 324.1 L171.3 324.1 L172.1 324.1 L173.0 324.2 L173.8 324.2 L174.7 324.3 L175.5 324.4 L176.4 324.5 L177.2 324.7 L178.1 324.9 L178.9 325.1 L179.8 325.4 L180.7 325.7 L181.5 326.0 L182.4 326.4 L183.2 326.8 L184.1 327.3 L184.9 327.8 L185.8 328.3 L186.6 328.8 L187.5 329.4 L188.3 330.0 L189.2 330.6 L190.0 331.3 L190.9 331.9 L191.7 332.6 L192.6 333.3 L193.4 334.0 L194.3 334.7 L195.1 335.4 L196.0 336.2 L196.8 336.9 L197.7 337.7 L198.5 338.4 L199.4 339.2 L200.2 339.9 L201.1 340.7 L202.0 341.4 L202.8 342.2 L203.7 342.9 L204.5 343.6 L205.4 344.3 L206.2 345.0 L207.1 345.7 L207.9 346.3 L208.8 347.0 L209.6 347.6 L210.5 348.2 L211.3 348.8 L212.2 349.3 L213.0 349.9 L213.9 350.3 L214.7 350.8 L215.6 351.2 L216.4 351.7 L217.3 352.0 L218.1 352.4 L219.0 352.7 L219.8 353.0 L220.7 353.2 L221.6 353.4 L222.4 353.6 L223.3 353.8 L224.1 353.9 L225.0 354.0 L225.8 354.0 L226.7 354.0 L227.5 354.0 L228.4 353.9 L229.2 353.8 L230.1 353.6 L230.9 353.5 L231.8 353.2 L232.6 353.0 L233.5 352.7 L234.3 352.4 L235.2 352.0 L236.0 351.6 L236.9 351.2 L237.7 350.8 L238.6 350.3 L239.4 349.7 L240.3 349.2 L241.2 348.6 L242.0 348.0 L242.9 347.3 L243.7 346.7 L244.6 346.0 L245.4 345.2 L246.3 344.5 L247.1 343.7 L248.0 342.9 L248.8 342.1 L249.7 341.3 L250.5 340.4 L251.4 339.5 L252.2 338.7 L253.1 337.8 L253.9 336.9 L254.8 336.0 L255.6 335.1 L256.5 334.1 L257.3 333.2 L258.2 332.3 L259.0 331.3 L259.9 330.4 L260.8 329.5 L261.6 328.6 L262.5 327.6 L263.3 326.7 L264.2 325.8 L265.0 324.9 L265.9 324.0 L266.7 323.1 L267.6 322.2 L268.4 321.3 L269.3 320.4 L270.1 319.5 L271.0 318.6 L271.8 317.7 L272.7 316.8 L273.5 316.0 L274.4 315.1 L275.2 314.2 L276.1 313.4 L276.9 312.5 L277.8 311.7 L278.6 310.8 L279.5 310.0 L280.3 309.2 L281.2 308.3 L282.1 307.5 L282.9 306.7 L283.8 305.9 L284.6 305.1 L285.5 304.3 L286.3 303.5 L287.2 302.7 L288.0 301.9 L288.9 301.1 L289.7 300.3 L290.6 299.5 L291.4 298.8 L292.3 298.0 L293.1 297.2 L294.0 296.5 L294.8 295.7 L295.7 294.9 L296.5 294.2 L297.4 293.5 L298.2 292.7 L299.1 292.0 L299.9 291.3 L300.8 290.5 L301.7 289.8 L302.5 289.1 L303.4 288.4 L304.2 287.7 L305.1 287.0 L305.9 286.3 L306.8 285.6 L307.6 284.9 L308.5 284.2 L309.3 283.5 L310.2 282.9 L311.0 282.2 L311.9 281.5 L312.7 280.9 L313.6 280.2 L314.4 279.6 L315.3 278.9 L316.1 278.3 L317.0 277.6 L317.8 277.0 L318.7 276.4 L319.5 275.8 L320.4 275.2 L321.3 274.6 L322.1 274.0 L323.0 273.4 L323.8 272.8 L324.7 272.2 L325.5 271.6 L326.4 271.1 L327.2 270.5 L328.1 269.9 L328.9 269.4 L329.8 268.9 L330.6 268.3 L331.5 267.8 L332.3 267.3 L333.2 266.7 L334.0 266.2 L334.9 265.7 L335.7 265.2 L336.6 264.7 L337.4 264.2 L338.3 263.7 L339.1 263.3 L340.0 262.8 L340.9 262.3 L341.7 261.9 L342.6 261.4 L343.4 261.0 L344.3 260.6 L345.1 260.1 L346.0 259.7 L346.8 259.3 L347.7 258.9 L348.5 258.5 L349.4 258.1 L350.2 257.7 L351.1 257.3 L351.9 256.9 L352.8 256.5 L353.6 256.1 L354.5 255.8 L355.3 255.4 L356.2 255.1 L357.0 254.7 L357.9 254.4 L358.7 254.0 L359.6 253.7 L360.4 253.4 L361.3 253.0 L362.2 252.7 L363.0 252.4 L363.9 252.1 L364.7 251.8 L365.6 251.5 L366.4 251.2 L367.3 250.9 L368.1 250.7 L369.0 250.4 L369.8 250.1 L370.7 249.9 L371.5 249.6 L372.4 249.4 L373.2 249.1 L374.1 248.9 L374.9 248.6 L375.8 248.4 L376.6 248.2 L377.5 248.0 L378.3 247.7 L379.2 247.5 L380.0 247.3 L380.9 247.1 L381.8 246.9 L382.6 246.7 L383.5 246.6 L384.3 246.4 L385.2 246.2 L386.0 246.0 L386.9 245.9 L387.7 245.7 L388.6 245.5 L389.4 245.4 L390.3 245.2 L391.1 245.1 L392.0 245.0 L392.8 244.8 L393.7 244.7 L394.5 244.6 L395.4 244.4 L396.2 244.3 L397.1 244.2 L397.9 244.1 L398.8 244.0 L399.6 243.9 L400.5 243.8" fill="none" stroke="#ff0000" stroke-width="3.2"/>
<path d="M60.5 229.5 L61.4 235.3 L62.2 241.1 L63.1 246.7 L63.9 252.3 L64.8 257.7 L65.6 262.8 L66.5 267.7 L67.3 272.3 L68.2 276.5 L69.0 280.5 L69.9 284.2 L70.7 287.9 L71.6 291.5 L72.4 295.2 L73.3 299.0 L74.1 303.0 L75.0 307.3 L75.8 311.6 L76.7 315.9 L77.5 320.1 L78.4 324.1 L79.2 327.8 L80.1 331.2 L81.0 334.3 L81.8 337.1 L82.7 339.7 L83.5 342.1 L84.4 344.2 L85.2 346.1 L86.1 347.9 L86.9 349.4 L87.8 350.8 L88.6 352.1 L89.5 353.3 L90.3 354.3 L91.2 355.3 L92.0 356.2 L92.9 357.0 L93.7 357.8 L94.6 358.4 L95.4 359.1 L96.3 359.6 L97.1 360.1 L98.0 360.5 L98.8 360.8 L99.7 361.1 L100.6 361.3 L101.4 361.4 L102.3 361.5 L103.1 361.5 L104.0 361.4 L104.8 361.2 L105.7 361.0 L106.5 360.7 L107.4 360.4 L108.2 360.0 L109.1 359.5 L109.9 359.0 L110.8 358.5 L111.6 357.9 L112.5 357.3 L113.3 356.7 L114.2 356.1 L115.0 355.5 L115.9 354.8 L116.7 354.2 L117.6 353.5 L118.4 352.8 L119.3 352.1 L120.1 351.5 L121.0 350.7 L121.9 350.0 L122.7 349.3 L123.6 348.6 L124.4 347.8 L125.3 347.0 L126.1 346.2 L127.0 345.4 L127.8 344.6 L128.7 343.8 L129.5 342.9 L130.4 342.0 L131.2 341.2 L132.1 340.3 L132.9 339.4 L133.8 338.5 L134.6 337.6 L135.5 336.6 L136.3 335.7 L137.2 334.8 L138.0 333.9 L138.9 333.0 L139.7 332.1 L140.6 331.3 L141.5 330.4 L142.3 329.5 L143.2 328.7 L144.0 327.8 L144.9 327.0 L145.7 326.2 L146.6 325.5 L147.4 324.7 L148.3 324.0 L149.1 323.3 L150.0 322.6 L150.8 322.0 L151.7 321.4 L152.5 320.8 L153.4 320.2 L154.2 319.7 L155.1 319.2 L155.9 318.7 L156.8 318.3 L157.6 317.8 L158.5 317.4 L159.3 317.1 L160.2 316.7 L161.1 316.4 L161.9 316.0 L162.8 315.7 L163.6 315.4 L164.5 315.2 L165.3 314.9 L166.2 314.7 L167.0 314.4 L167.9 314.2 L168.7 314.0 L169.6 313.9 L170.4 313.7 L171.3 313.6 L172.1 313.4 L173.0 313.3 L173.8 313.2 L174.7 313.1 L175.5 313.0 L176.4 313.0 L177.2 312.9 L178.1 312.9 L178.9 312.9 L179.8 312.9 L180.7 312.9 L181.5 312.9 L182.4 313.0 L183.2 313.0 L184.1 313.1 L184.9 313.2 L185.8 313.3 L186.6 313.4 L187.5 313.5 L188.3 313.6 L189.2 313.8 L190.0 313.9 L190.9 314.1 L191.7 314.3 L192.6 314.5 L193.4 314.6 L194.3 314.8 L195.1 315.0 L196.0 315.2 L196.8 315.5 L197.7 315.7 L198.5 315.9 L199.4 316.2 L200.2 316.4 L201.1 316.6 L202.0 316.9 L202.8 317.1 L203.7 317.4 L204.5 317.6 L205.4 317.9 L206.2 318.2 L207.1 318.4 L207.9 318.7 L208.8 318.9 L209.6 319.2 L210.5 319.5 L211.3 319.7 L212.2 320.0 L213.0 320.2 L213.9 320.5 L214.7 320.8 L215.6 321.0 L216.4 321.3 L217.3 321.5 L218.1 321.8 L219.0 322.0 L219.8 322.3 L220.7 322.5 L221.6 322.8 L222.4 323.0 L223.3 323.3 L224.1 323.6 L225.0 323.8 L225.8 324.1 L226.7 324.3 L227.5 324.6 L228.4 324.8 L229.2 325.1 L230.1 325.3 L230.9 325.6 L231.8 325.8 L232.6 326.1 L233.5 326.3 L234.3 326.6 L235.2 326.8 L236.0 327.1 L236.9 327.4 L237.7 327.6 L238.6 327.9 L239.4 328.1 L240.3 328.4 L241.2 328.7 L242.0 328.9 L242.9 329.2 L243.7 329.4 L244.6 329.7 L245.4 329.9 L246.3 330.0 L247.1 330.2 L248.0 330.3 L248.8 330.3 L249.7 330.3 L250.5 330.2 L251.4 330.1 L252.2 330.0 L253.1 329.8 L253.9 329.6 L254.8 329.3 L255.6 328.9 L256.5 328.6 L257.3 328.2 L258.2 327.7 L259.0 327.2 L259.9 326.7 L260.8 326.1 L261.6 325.5 L262.5 324.8 L263.3 324.1 L264.2 323.4 L265.0 322.7 L265.9 321.9 L266.7 321.1 L267.6 320.3 L268.4 319.5 L269.3 318.7 L270.1 317.9 L271.0 317.1 L271.8 316.2 L272.7 315.4 L273.5 314.6 L274.4 313.8 L275.2 312.9 L276.1 312.1 L276.9 311.3 L277.8 310.5 L278.6 309.7 L279.5 308.8 L280.3 308.0 L281.2 307.2 L282.1 306.4 L282.9 305.6 L283.8 304.7 L284.6 303.9 L285.5 303.1 L286.3 302.3 L287.2 301.5 L288.0 300.7 L288.9 299.9 L289.7 299.1 L290.6 298.3 L291.4 297.5 L292.3 296.7 L293.1 295.9 L294.0 295.1 L294.8 294.4 L295.7 293.6 L296.5 292.8 L297.4 292.0 L298.2 291.3 L299.1 290.5 L299.9 289.8 L300.8 289.0 L301.7 288.3 L302.5 287.6 L303.4 286.8 L304.2 286.1 L305.1 285.4 L305.9 284.7 L306.8 283.9 L307.6 283.2 L308.5 282.5 L309.3 281.8 L310.2 281.1 L311.0 280.5 L311.9 279.8 L312.7 279.1 L313.6 278.4 L314.4 277.8 L315.3 277.1 L316.1 276.5 L317.0 275.8 L317.8 275.2 L318.7 274.5 L319.5 273.9 L320.4 273.3 L321.3 272.7 L322.1 272.1 L323.0 271.4 L323.8 270.8 L324.7 270.3 L325.5 269.7 L326.4 269.1 L327.2 268.5 L328.1 267.9 L328.9 267.4 L329.8 266.8 L330.6 266.3 L331.5 265.7 L332.3 265.2 L333.2 264.6 L334.0 264.1 L334.9 263.6 L335.7 263.1 L336.6 262.6 L337.4 262.1 L338.3 261.6 L339.1 261.1 L340.0 260.6 L340.9 260.1 L341.7 259.7 L342.6 259.2 L343.4 258.8 L344.3 258.3 L345.1 257.9 L346.0 257.4 L346.8 257.0 L347.7 256.6 L348.5 256.2 L349.4 255.7 L350.2 255.3 L351.1 254.9 L351.9 254.5 L352.8 254.1 L353.6 253.8 L354.5 253.4 L355.3 253.0 L356.2 252.6 L357.0 252.3 L357.9 251.9 L358.7 251.6 L359.6 251.2 L360.4 250.9 L361.3 250.6 L362.2 250.2 L363.0 249.9 L363.9 249.6 L364.7 249.3 L365.6 249.0 L366.4 248.7 L367.3 248.4 L368.1 248.1 L369.0 247.8 L369.8 247.5 L370.7 247.3 L371.5 247.0 L372.4 246.7 L373.2 246.5 L374.1 246.2 L374.9 246.0 L375.8 245.7 L376.6 245.5 L377.5 245.3 L378.3 245.0 L379.2 244.8 L380.0 244.6 L380.9 244.4 L381.8 244.2 L382.6 244.0 L383.5 243.8 L384.3 243.6 L385.2 243.4 L386.0 243.2 L386.9 243.0 L387.7 242.9 L388.6 242.7 L389.4 242.5 L390.3 242.4 L391.1 242.2 L392.0 242.1 L392.8 241.9 L393.7 241.8 L394.5 241.6 L395.4 241.5 L396.2 241.4 L397.1 241.3 L397.9 241.1 L398.8 241.0 L399.6 240.9 L400.5 240.8" fill="none" stroke="#000000" stroke-width="3.2" stroke-dasharray="1.35 2.15"/>
<path d="M60.5 229.5 L61.4 235.4 L62.2 241.1 L63.1 246.8 L63.9 252.3 L64.8 257.6 L65.6 262.7 L66.5 267.6 L67.3 272.2 L68.2 276.6 L69.0 280.7 L69.9 284.7 L70.7 288.6 L71.6 292.4 L72.4 296.4 L73.3 300.4 L74.1 304.6 L75.0 308.9 L75.8 313.3 L76.7 317.6 L77.5 321.9 L78.4 325.9 L79.2 329.7 L80.1 333.3 L81.0 336.7 L81.8 339.8 L82.7 342.7 L83.5 345.5 L84.4 348.0 L85.2 350.4 L86.1 352.6 L86.9 354.7 L87.8 356.6 L88.6 358.3 L89.5 359.9 L90.3 361.4 L91.2 362.7 L92.0 363.9 L92.9 365.1 L93.7 366.1 L94.6 367.0 L95.4 367.8 L96.3 368.5 L97.1 369.1 L98.0 369.7 L98.8 370.1 L99.7 370.5 L100.6 370.7 L101.4 370.9 L102.3 371.1 L103.1 371.1 L104.0 371.1 L104.8 371.1 L105.7 370.9 L106.5 370.8 L107.4 370.5 L108.2 370.2 L109.1 369.9 L109.9 369.5 L110.8 369.1 L111.6 368.7 L112.5 368.2 L113.3 367.7 L114.2 367.1 L115.0 366.6 L115.9 366.0 L116.7 365.4 L117.6 364.7 L118.4 364.1 L119.3 363.4 L120.1 362.7 L121.0 362.0 L121.9 361.2 L122.7 360.5 L123.6 359.7 L124.4 358.9 L125.3 358.1 L126.1 357.2 L127.0 356.3 L127.8 355.5 L128.7 354.6 L129.5 353.6 L130.4 352.7 L131.2 351.8 L132.1 350.8 L132.9 349.8 L133.8 348.9 L134.6 347.9 L135.5 346.9 L136.3 345.9 L137.2 345.0 L138.0 344.0 L138.9 343.0 L139.7 342.0 L140.6 341.1 L141.5 340.1 L142.3 339.2 L143.2 338.3 L144.0 337.4 L144.9 336.5 L145.7 335.7 L146.6 334.8 L147.4 334.0 L148.3 333.2 L149.1 332.5 L150.0 331.7 L150.8 331.0 L151.7 330.4 L152.5 329.7 L153.4 329.1 L154.2 328.5 L155.1 328.0 L155.9 327.5 L156.8 327.0 L157.6 326.5 L158.5 326.1 L159.3 325.7 L160.2 325.3 L161.1 325.0 L161.9 324.6 L162.8 324.3 L163.6 324.1 L164.5 323.8 L165.3 323.6 L166.2 323.4 L167.0 323.2 L167.9 323.1 L168.7 322.9 L169.6 322.8 L170.4 322.7 L171.3 322.7 L172.1 322.6 L173.0 322.6 L173.8 322.6 L174.7 322.6 L175.5 322.6 L176.4 322.7 L177.2 322.8 L178.1 322.9 L178.9 323.0 L179.8 323.1 L180.7 323.2 L181.5 323.4 L182.4 323.6 L183.2 323.8 L184.1 324.0 L184.9 324.2 L185.8 324.5 L186.6 324.8 L187.5 325.0 L188.3 325.3 L189.2 325.7 L190.0 326.0 L190.9 326.4 L191.7 326.7 L192.6 327.1 L193.4 327.5 L194.3 328.0 L195.1 328.4 L196.0 328.9 L196.8 329.3 L197.7 329.8 L198.5 330.3 L199.4 330.9 L200.2 331.4 L201.1 331.9 L202.0 332.5 L202.8 333.1 L203.7 333.7 L204.5 334.3 L205.4 334.9 L206.2 335.5 L207.1 336.2 L207.9 336.9 L208.8 337.5 L209.6 338.2 L210.5 338.9 L211.3 339.7 L212.2 340.4 L213.0 341.1 L213.9 341.9 L214.7 342.7 L215.6 343.5 L216.4 344.3 L217.3 345.1 L218.1 345.9 L219.0 346.8 L219.8 347.6 L220.7 348.5 L221.6 349.4 L222.4 350.4 L223.3 351.3 L224.1 352.3 L225.0 353.3 L225.8 354.3 L226.7 355.3 L227.5 356.3 L228.4 357.4 L229.2 358.4 L230.1 359.5 L230.9 360.6 L231.8 361.7 L232.6 362.8 L233.5 363.8 L234.3 364.9 L235.2 366.0 L236.0 367.0 L236.9 368.0 L237.7 369.0 L238.6 370.0 L239.4 370.9 L240.3 371.8 L241.2 372.7 L242.0 373.5 L242.9 374.3 L243.7 375.0 L244.6 375.7 L245.4 376.3 L246.3 376.9 L247.1 377.4 L248.0 377.9 L248.8 378.3 L249.7 378.6 L250.5 378.9 L251.4 379.1 L252.2 379.2 L253.1 379.3 L253.9 379.3 L254.8 379.2 L255.6 379.1 L256.5 378.8 L257.3 378.6 L258.2 378.2 L259.0 377.8 L259.9 377.4 L260.8 376.9 L261.6 376.4 L262.5 375.9 L263.3 375.4 L264.2 374.8 L265.0 374.2 L265.9 373.5 L266.7 372.8 L267.6 372.1 L268.4 371.3 L269.3 370.5 L270.1 369.7 L271.0 368.8 L271.8 367.8 L272.7 366.8 L273.5 365.8 L274.4 364.7 L275.2 363.6 L276.1 362.4 L276.9 361.2 L277.8 360.0 L278.6 358.8 L279.5 357.5 L280.3 356.2 L281.2 354.9 L282.1 353.5 L282.9 352.1 L283.8 350.7 L284.6 349.3 L285.5 347.9 L286.3 346.5 L287.2 345.1 L288.0 343.6 L288.9 342.2 L289.7 340.7 L290.6 339.3 L291.4 337.8 L292.3 336.4 L293.1 334.9 L294.0 333.5 L294.8 332.1 L295.7 330.6 L296.5 329.2 L297.4 327.9 L298.2 326.5 L299.1 325.1 L299.9 323.8 L300.8 322.5 L301.7 321.2 L302.5 319.9 L303.4 318.6 L304.2 317.4 L305.1 316.2 L305.9 315.0 L306.8 313.8 L307.6 312.6 L308.5 311.4 L309.3 310.3 L310.2 309.1 L311.0 308.0 L311.9 306.9 L312.7 305.9 L313.6 304.8 L314.4 303.8 L315.3 302.7 L316.1 301.7 L317.0 300.7 L317.8 299.8 L318.7 298.8 L319.5 297.9 L320.4 296.9 L321.3 296.0 L322.1 295.1 L323.0 294.3 L323.8 293.4 L324.7 292.5 L325.5 291.7 L326.4 290.9 L327.2 290.1 L328.1 289.3 L328.9 288.5 L329.8 287.7 L330.6 286.9 L331.5 286.2 L332.3 285.4 L333.2 284.7 L334.0 284.0 L334.9 283.3 L335.7 282.6 L336.6 281.9 L337.4 281.2 L338.3 280.5 L339.1 279.8 L340.0 279.2 L340.9 278.5 L341.7 277.9 L342.6 277.2 L343.4 276.6 L344.3 276.0 L345.1 275.4 L346.0 274.8 L346.8 274.2 L347.7 273.6 L348.5 273.0 L349.4 272.5 L350.2 271.9 L351.1 271.3 L351.9 270.8 L352.8 270.2 L353.6 269.7 L354.5 269.2 L355.3 268.6 L356.2 268.1 L357.0 267.6 L357.9 267.1 L358.7 266.6 L359.6 266.1 L360.4 265.6 L361.3 265.2 L362.2 264.7 L363.0 264.2 L363.9 263.7 L364.7 263.3 L365.6 262.8 L366.4 262.4 L367.3 261.9 L368.1 261.5 L369.0 261.1 L369.8 260.6 L370.7 260.2 L371.5 259.8 L372.4 259.4 L373.2 259.0 L374.1 258.6 L374.9 258.1 L375.8 257.7 L376.6 257.3 L377.5 257.0 L378.3 256.6 L379.2 256.2 L380.0 255.8 L380.9 255.4 L381.8 255.0 L382.6 254.7 L383.5 254.3 L384.3 253.9 L385.2 253.5 L386.0 253.2 L386.9 252.8 L387.7 252.5 L388.6 252.1 L389.4 251.7 L390.3 251.4 L391.1 251.0 L392.0 250.7 L392.8 250.3 L393.7 250.0 L394.5 249.6 L395.4 249.3 L396.2 248.9 L397.1 248.6 L397.9 248.2 L398.8 247.9 L399.6 247.5 L400.5 247.2" fill="none" stroke="#000000" stroke-width="3.2" stroke-dasharray="10.4 2.5"/>
</g>
<polygon points="281.5,185.9 276.0,196.9 287.0,196.9" fill="#008000"/>
<polygon points="277.5,407.7 272.0,418.2 283.0,418.2" fill="#008000"/>
<g font-family="'Liberation Sans', sans-serif" font-weight="bold" fill="#000" stroke="#000" stroke-width="0.3" text-rendering="geometricPrecision">
<g font-size="14.6px" text-anchor="end" stroke-width="0.12">
<text x="51.8" y="20.6">0.3</text>
<text x="51.8" y="50.2">0.25</text>
<text x="51.8" y="79.7">0.2</text>
<text x="51.8" y="109.3">0.15</text>
<text x="51.8" y="138.9">0.1</text>
<text x="51.8" y="168.4">0.05</text>
<text x="51.8" y="198.0">0.0</text>
<text x="51.8" y="234.8">1.0</text>
<text x="51.8" y="271.7">0.8</text>
<text x="51.8" y="308.7">0.6</text>
<text x="51.8" y="345.6">0.4</text>
<text x="51.8" y="382.6">0.2</text>
<text x="51.8" y="419.5">0.0</text>
</g>
<g font-size="14.2px" text-anchor="middle" stroke-width="0.12">
<text x="94.4" y="434">5</text>
<text x="140.5" y="434">1</text>
<text x="186.6" y="434">2</text>
<text x="247.5" y="434">5</text>
<text x="293.5" y="434">10</text>
<text x="339.6" y="434">2</text>
<text x="400.2" y="434">5</text>
</g>
<text font-size="17.6px" text-anchor="middle" transform="translate(12.2 104.5) rotate(-90)">Rel. Entropy</text>
<text font-size="17.6px" text-anchor="middle" transform="translate(23 304) rotate(-90)">Rel. Pressure</text>
<text font-size="17.7px" x="212.3" y="454.8">(fm/c)</text>
<g transform="translate(199.5 454.8) scale(1.45 1)"><text font-size="16px" x="0" y="0" font-family="'Liberation Serif', serif" font-style="italic" font-weight="normal" stroke="none">&#964;</text></g>
<text font-size="18px" x="68.8" y="38.3">(b)</text>
<text font-size="17.8px" x="96.4" y="38.3">S</text>
<text x="109.3" y="41.3" font-size="12px" font-family="'Liberation Serif', serif" font-weight="normal">&#928;</text>
<text font-size="17.8px" x="118" y="38.3">/</text>
<text font-size="17.8px" x="122.6" y="38.3">S</text>
<text font-size="11.5px" x="134.4" y="41.3">f</text>
<text font-size="18px" x="68.8" y="245.2">(a)</text>
<text font-size="17.8px" x="95.7" y="245.2">P</text>
<text font-size="14px" x="107.2" y="248">z</text>
<text font-size="17.8px" x="113.3" y="245.2">/</text>
<text font-size="17.8px" x="118" y="245.2">P</text>
<text font-size="17.6px" x="109.01" y="67.6">c</text><text x="118.87" y="71.7" font-size="13.4px" font-family="'Liberation Serif', serif" font-style="italic" font-weight="normal" stroke="none">&#950;</text><text font-size="16px" x="130.03" y="69.1">=</text><text font-size="16px" x="144.82" y="67.6">1</text><text font-size="16px" x="154.31" y="67.6">,</text><text font-size="17.6px" x="164.09" y="67.6">a</text><text x="174.17" y="71.7" font-size="13.4px" font-family="'Liberation Serif', serif" font-style="italic" font-weight="normal" stroke="none">&#950;</text><text font-size="16px" x="185.73" y="69.1">=</text><text font-size="16px" x="200.64" y="67.6">2</text>
<text font-size="17.6px" x="109.01" y="89.7">c</text><text x="118.87" y="93.8" font-size="13.4px" font-family="'Liberation Serif', serif" font-style="italic" font-weight="normal" stroke="none">&#950;</text><text font-size="16px" x="130.03" y="91.2">=</text><text font-size="16px" x="145.54" y="89.7">2</text><text font-size="16px" x="155.61" y="89.7">,</text><text font-size="17.6px" x="165.99" y="89.7">a</text><text x="175.97" y="93.8" font-size="13.4px" font-family="'Liberation Serif', serif" font-style="italic" font-weight="normal" stroke="none">&#950;</text><text font-size="16px" x="187.33" y="91.2">=</text><text font-size="16px" x="201.94" y="89.7">2</text>
<text font-size="17.6px" x="287.41" y="37.6">c</text><text x="297.17" y="41.7" font-size="13.4px" font-family="'Liberation Serif', serif" font-style="italic" font-weight="normal" stroke="none">&#950;</text><text font-size="16px" x="309.13" y="39.1">=</text><text font-size="16px" x="323.56" y="37.6">0</text>
<text font-size="17.6px" x="287.41" y="59.4">c</text><text x="297.17" y="63.5" font-size="13.4px" font-family="'Liberation Serif', serif" font-style="italic" font-weight="normal" stroke="none">&#950;</text><text font-size="16px" x="309.13" y="60.9">=</text><text font-size="16px" x="324.02" y="59.4">1</text><text font-size="16px" x="332.51" y="59.4">,</text><text font-size="17.6px" x="342.59" y="59.4">a</text><text x="352.37" y="63.5" font-size="13.4px" font-family="'Liberation Serif', serif" font-style="italic" font-weight="normal" stroke="none">&#950;</text><text font-size="16px" x="363.73" y="60.9">=</text><text font-size="16px" x="378.22" y="59.4">1</text>
<text font-size="17.6px" x="287.41" y="81.5">c</text><text x="297.17" y="85.6" font-size="13.4px" font-family="'Liberation Serif', serif" font-style="italic" font-weight="normal" stroke="none">&#950;</text><text font-size="16px" x="309.13" y="83.0">=</text><text font-size="16px" x="323.04" y="81.5">2</text><text font-size="16px" x="332.71" y="81.5">,</text><text font-size="17.6px" x="342.59" y="81.5">a</text><text x="352.37" y="85.6" font-size="13.4px" font-family="'Liberation Serif', serif" font-style="italic" font-weight="normal" stroke="none">&#950;</text><text font-size="16px" x="363.73" y="83.0">=</text><text font-size="16px" x="378.22" y="81.5">1</text>
</g>
<g fill="none" stroke-width="3.2">
<line x1="69.6" y1="67.3" x2="101.8" y2="67.3" stroke="#000" stroke-width="2.8" stroke-dasharray="1.15 1.8"/>
<line x1="69.6" y1="89" x2="102.2" y2="89" stroke="#000" stroke-dasharray="9.6 1.7"/>
<line x1="247.7" y1="31.5" x2="280.1" y2="31.5" stroke="#00f" stroke-width="3" stroke-dasharray="5 3.6 5 3.6 5 3.6 2.4 100"/>
<line x1="247.7" y1="53.3" x2="280.1" y2="53.3" stroke="#f00"/>
<line x1="247.7" y1="75.4" x2="280.1" y2="75.4" stroke="#f00" stroke-dasharray="1.7 1.7 10 2"/>
</g>
</svg>
</body></html>
